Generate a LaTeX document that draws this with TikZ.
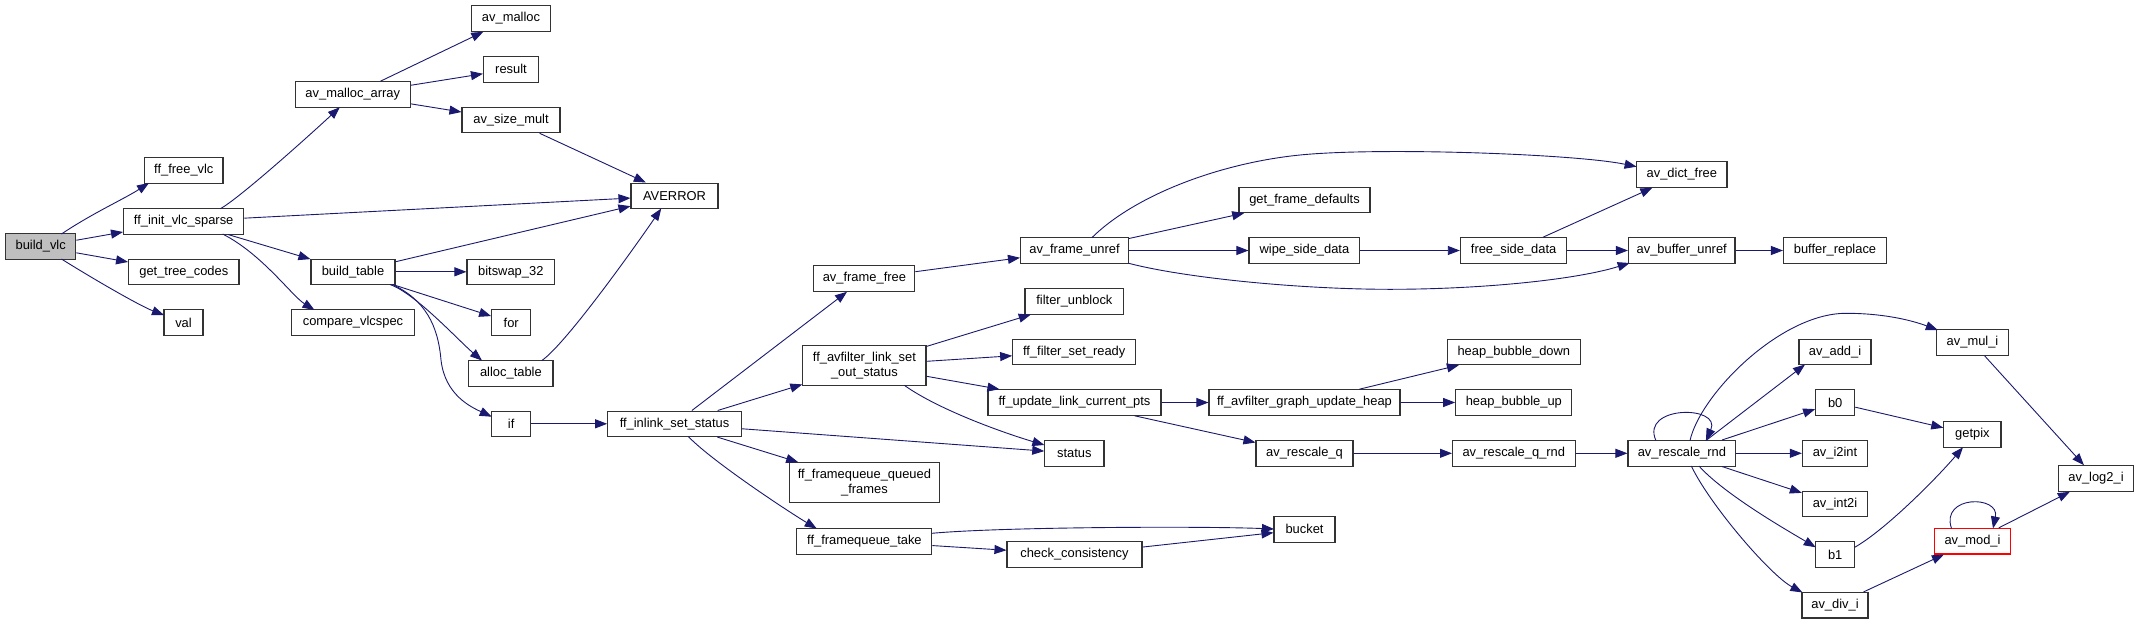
\documentclass[tikz,border=0pt]{standalone}
\usepackage{fontspec}
\setmainfont{Liberation Sans}
\usetikzlibrary{arrows.meta}
\definecolor{edgeblue}{HTML}{191970}
\definecolor{rootgray}{HTML}{BFBFBF}
\definecolor{boxline}{HTML}{333333}
\begin{document}
\begin{tikzpicture}[x=1pt,y=-1pt,
  box/.style={draw=boxline, line width=1.1pt, fill=white, minimum height=25.5pt, inner sep=0pt,
    font=\fontsize{12.9}{15}\selectfont, text=black},
  tall/.style={minimum height=40pt, align=center},
  edge/.style={draw=edgeblue, line width=0.9pt, -{Triangle[length=12pt,width=9pt]}},
]
\fill[white] (0,0) rectangle (2139,624);
\useasboundingbox (0,0) rectangle (2139,624);

% column 1
\node[box, fill=rootgray, minimum width=70.3pt] (build_vlc) at (40.7,246.5) {build\_vlc};
% column 2
\node[box, minimum width=78.4pt] (ff_free_vlc) at (183.8,170.5) {ff\_free\_vlc};
\node[box, minimum width=120.3pt] (ff_init_vlc_sparse) at (183.7,221.3) {ff\_init\_vlc\_sparse};
\node[box, minimum width=110.4pt] (get_tree_codes) at (183.8,271.8) {get\_tree\_codes};
\node[box, minimum width=39pt] (val) at (183.5,322.5) {val};
% column 3
\node[box, minimum width=115.5pt] (av_malloc_array) at (352.8,94.5) {av\_malloc\_array};
\node[box, minimum width=84pt] (build_table) at (353,271.8) {build\_table};
\node[box, minimum width=123pt] (compare_vlcspec) at (353,322.5) {compare\_vlcspec};
% column 4
\node[box, minimum width=79pt] (av_malloc) at (511,18.5) {av\_malloc};
\node[box, minimum width=55pt] (result) at (511,69.3) {result};
\node[box, minimum width=98pt] (av_size_mult) at (511,120) {av\_size\_mult};
\node[box, minimum width=87.6pt] (bitswap_32) at (510.8,271.8) {bitswap\_32};
\node[box, minimum width=39pt] (nfor) at (511.2,322.5) {for};
\node[box, minimum width=84.2pt] (alloc_table) at (510.9,373.3) {alloc\_table};
\node[box, minimum width=39pt] (nif) at (511.2,423.8) {if};
% column 5
\node[box, minimum width=87pt] (AVERROR) at (674.5,195.8) {AVERROR};
\node[box, minimum width=133.6pt] (ff_inlink_set_status) at (674.5,423.8) {ff\_inlink\_set\_status};
% column 6
\node[box, minimum width=101pt] (av_frame_free) at (864.4,278.5) {av\_frame\_free};
\node[box, tall, minimum width=123.1pt] (ff_avfilter_link_set_out_status) at (864.4,365.3) {ff\_avfilter\_link\_set\\\_out\_status};
\node[box, tall, minimum width=150.7pt] (ff_framequeue_queued_frames) at (864.4,482.7) {ff\_framequeue\_queued\\\_frames};
\node[box, minimum width=135pt] (ff_framequeue_take) at (864.4,541.3) {ff\_framequeue\_take};
% column 7
\node[box, minimum width=108pt] (av_frame_unref) at (1074.5,250.5) {av\_frame\_unref};
\node[box, minimum width=98.8pt] (filter_unblock) at (1074.4,301.3) {filter\_unblock};
\node[box, minimum width=123pt] (ff_filter_set_ready) at (1074.2,351.8) {ff\_filter\_set\_ready};
\node[box, minimum width=173pt] (ff_update_link_current_pts) at (1074.5,402.5) {ff\_update\_link\_current\_pts};
\node[box, minimum width=59.2pt] (status) at (1074.4,453.3) {status};
\node[box, minimum width=135pt] (check_consistency) at (1074.5,554.5) {check\_consistency};
% column 8
\node[box, minimum width=131pt] (get_frame_defaults) at (1304.5,199.8) {get\_frame\_defaults};
\node[box, minimum width=110.8pt] (wipe_side_data) at (1304.4,250.5) {wipe\_side\_data};
\node[box, minimum width=191pt] (ff_avfilter_graph_update_heap) at (1304.5,402.5) {ff\_avfilter\_graph\_update\_heap};
\node[box, minimum width=97pt] (av_rescale_q) at (1304.5,453.3) {av\_rescale\_q};
\node[box, minimum width=61pt] (bucket) at (1304.5,529.3) {bucket};
% column 9
\node[box, minimum width=106.5pt] (free_side_data) at (1513.6,250.5) {free\_side\_data};
\node[box, minimum width=132.5pt] (heap_bubble_down) at (1513.8,351.8) {heap\_bubble\_down};
\node[box, minimum width=116.2pt] (heap_bubble_up) at (1513.8,402.5) {heap\_bubble\_up};
\node[box, minimum width=122.5pt] (av_rescale_q_rnd) at (1513.8,453.3) {av\_rescale\_q\_rnd};
% column 10
\node[box, minimum width=90.4pt] (av_dict_free) at (1681.8,174.5) {av\_dict\_free};
\node[box, minimum width=106.5pt] (av_buffer_unref) at (1681.7,250.5) {av\_buffer\_unref};
\node[box, minimum width=107.8pt] (av_rescale_rnd) at (1681.9,453.3) {av\_rescale\_rnd};
% column 11
\node[box, minimum width=103pt] (buffer_replace) at (1835,250.5) {buffer\_replace};
\node[box, minimum width=72pt] (av_add_i) at (1835,351.8) {av\_add\_i};
\node[box, minimum width=39pt] (b0) at (1835.2,402.5) {b0};
\node[box, minimum width=65.2pt] (av_i2int) at (1835,453.3) {av\_i2int};
\node[box, minimum width=65.2pt] (av_int2i) at (1835,503.8) {av\_int2i};
\node[box, minimum width=39pt] (b1) at (1835.2,554.5) {b1};
\node[box, minimum width=66pt] (av_div_i) at (1835,605.2) {av\_div\_i};
% column 12
\node[box, minimum width=72pt] (av_mul_i) at (1972.5,342.5) {av\_mul\_i};
\node[box, minimum width=57.2pt] (getpix) at (1972.4,434.5) {getpix};
\node[box, draw=red, minimum width=75.8pt] (av_mod_i) at (1972.5,541.2) {av\_mod\_i};
% column 13
\node[box, minimum width=74.8pt] (av_log2_i) at (2096,478.5) {av\_log2\_i};

% ---- edges ----
\draw[edge] ([shift={(20.8,-12.5)}]build_vlc.center) .. controls (91,214) and (124,199) .. ([shift={(-34.8,12.5)}]ff_free_vlc.center);
\draw[edge] (build_vlc) -- (ff_init_vlc_sparse);
\draw[edge] (build_vlc) -- (get_tree_codes);
\draw[edge] ([shift={(20.8,12.5)}]build_vlc.center) .. controls (90,277) and (140,306) .. ([shift={(-19.5,-7.5)}]val.center);

\draw[edge] ([shift={(36.7,-12.6)}]ff_init_vlc_sparse.center) .. controls (238,199) and (300,144) .. ([shift={(-13,12.75)}]av_malloc_array.center);
\draw[edge] (ff_init_vlc_sparse) -- (AVERROR);
\draw[edge] (ff_init_vlc_sparse) -- (build_table);
\draw[edge] ([shift={(39,12.75)}]ff_init_vlc_sparse.center) .. controls (262,254) and (292,296) .. ([shift={(-38.5,-12.5)}]compare_vlcspec.center);

\draw[edge] (av_malloc_array) -- (av_malloc);
\draw[edge] (av_malloc_array) -- (result);
\draw[edge] (av_malloc_array) -- (av_size_mult);
\draw[edge] (av_size_mult) -- (AVERROR);

\draw[edge] (build_table) -- (AVERROR);
\draw[edge] (build_table) -- (bitswap_32);
\draw[edge] (build_table) -- (nfor);
\draw[edge] ([shift={(37,12.75)}]build_table.center) .. controls (415,293) and (458,340) .. ([shift={(-28.9,-12.75)}]alloc_table.center);
\draw[edge] ([shift={(39.6,12.75)}]build_table.center) .. controls (425,300) and (438,325) .. (441,360) .. controls (445,395) and (471,407) .. ([shift={(-19.5,-7.1)}]nif.center);
\draw[edge] ([shift={(30.9,-12.75)}]alloc_table.center) .. controls (567,343) and (639,241) .. ([shift={(-13.3,12.75)}]AVERROR.center);
\draw[edge] (nif) -- (ff_inlink_set_status);

\draw[edge] (ff_inlink_set_status) -- (av_frame_free);
\draw[edge] (ff_inlink_set_status) -- (ff_avfilter_link_set_out_status);
\draw[edge] (ff_inlink_set_status) -- (status);
\draw[edge] (ff_inlink_set_status) -- (ff_framequeue_queued_frames);
\draw[edge] ([shift={(13.8,12.75)}]ff_inlink_set_status.center) .. controls (713,462) and (789,512) .. ([shift={(-47.7,-12.75)}]ff_framequeue_take.center);

\draw[edge] (av_frame_free) -- (av_frame_unref);
\draw[edge] ([shift={(17.3,-12.75)}]av_frame_unref.center) .. controls (1135,195) and (1220,163) .. (1300,155) .. controls (1380,147) and (1576,154) .. ([shift={(-45.2,-7.8)}]av_dict_free.center);
\draw[edge] (av_frame_unref) -- (get_frame_defaults);
\draw[edge] (av_frame_unref) -- (wipe_side_data);
\draw[edge] ([shift={(54,12.75)}]av_frame_unref.center) .. controls (1185,278) and (1300,289.3) .. (1390,289.3) .. controls (1480,289.3) and (1575,280) .. ([shift={(-52,12.5)}]av_buffer_unref.center);
\draw[edge] (wipe_side_data) -- (free_side_data);
\draw[edge] (free_side_data) -- (av_dict_free);
\draw[edge] (free_side_data) -- (av_buffer_unref);
\draw[edge] (av_buffer_unref) -- (buffer_replace);

\draw[edge] (ff_avfilter_link_set_out_status) -- (filter_unblock);
\draw[edge] (ff_avfilter_link_set_out_status) -- (ff_filter_set_ready);
\draw[edge] (ff_avfilter_link_set_out_status) -- (ff_update_link_current_pts);
\draw[edge] ([shift={(39.9,20)}]ff_avfilter_link_set_out_status.center) .. controls (939,410) and (1004,433) .. ([shift={(-30,-8.3)}]status.center);
\draw[edge] (ff_update_link_current_pts) -- (ff_avfilter_graph_update_heap);
\draw[edge] (ff_update_link_current_pts) -- (av_rescale_q);
\draw[edge] (ff_avfilter_graph_update_heap) -- (heap_bubble_down);
\draw[edge] (ff_avfilter_graph_update_heap) -- (heap_bubble_up);
\draw[edge] (av_rescale_q) -- (av_rescale_q_rnd);
\draw[edge] (av_rescale_q_rnd) -- (av_rescale_rnd);

\draw[edge] ([shift={(-26,-12.75)}]av_rescale_rnd.center) .. controls (1640,405) and (1722,405) .. ([shift={(24,-12.75)}]av_rescale_rnd.center);
\draw[edge] ([shift={(8.1,-12.75)}]av_rescale_rnd.center) .. controls (1700,395) and (1780,313.3) .. (1846,313.3) .. controls (1880,313.3) and (1908,319) .. ([shift={(-34.7,-12.5)}]av_mul_i.center);
\draw[edge] ([shift={(24,-12.75)}]av_rescale_rnd.center) -- ([shift={(-30,12.75)}]av_add_i.center);
\draw[edge] (av_rescale_rnd) -- (b0);
\draw[edge] (av_rescale_rnd) -- (av_i2int);
\draw[edge] (av_rescale_rnd) -- (av_int2i);
\draw[edge] ([shift={(17.1,12.75)}]av_rescale_rnd.center) .. controls (1725,495) and (1790,532) .. ([shift={(-19.5,-7.2)}]b1.center);
\draw[edge] ([shift={(9.4,12.75)}]av_rescale_rnd.center) .. controls (1710,505) and (1770,575) .. ([shift={(-32.6,-12.75)}]av_div_i.center);
\draw[edge] (b0) -- (getpix);
\draw[edge] ([shift={(19.5,-7.2)}]b1.center) .. controls (1885,530) and (1935,480) .. ([shift={(-9.4,12.75)}]getpix.center);
\draw[edge] (av_mul_i) -- (av_log2_i);
\draw[edge] ([shift={(-21,-12.75)}]av_mod_i.center) .. controls (1940,495) and (2000,495) .. ([shift={(20.5,-12.75)}]av_mod_i.center);
\draw[edge] (av_mod_i) -- (av_log2_i);
\draw[edge] (av_div_i) -- (av_mod_i);

\draw[edge] ([shift={(67.5,-8)}]ff_framequeue_take.center) .. controls (1000,527) and (1200,526) .. ([shift={(-30.5,-0.3)}]bucket.center);
\draw[edge] (ff_framequeue_take) -- (check_consistency);
\draw[edge] (check_consistency) -- (bucket);
\end{tikzpicture}
\end{document}
